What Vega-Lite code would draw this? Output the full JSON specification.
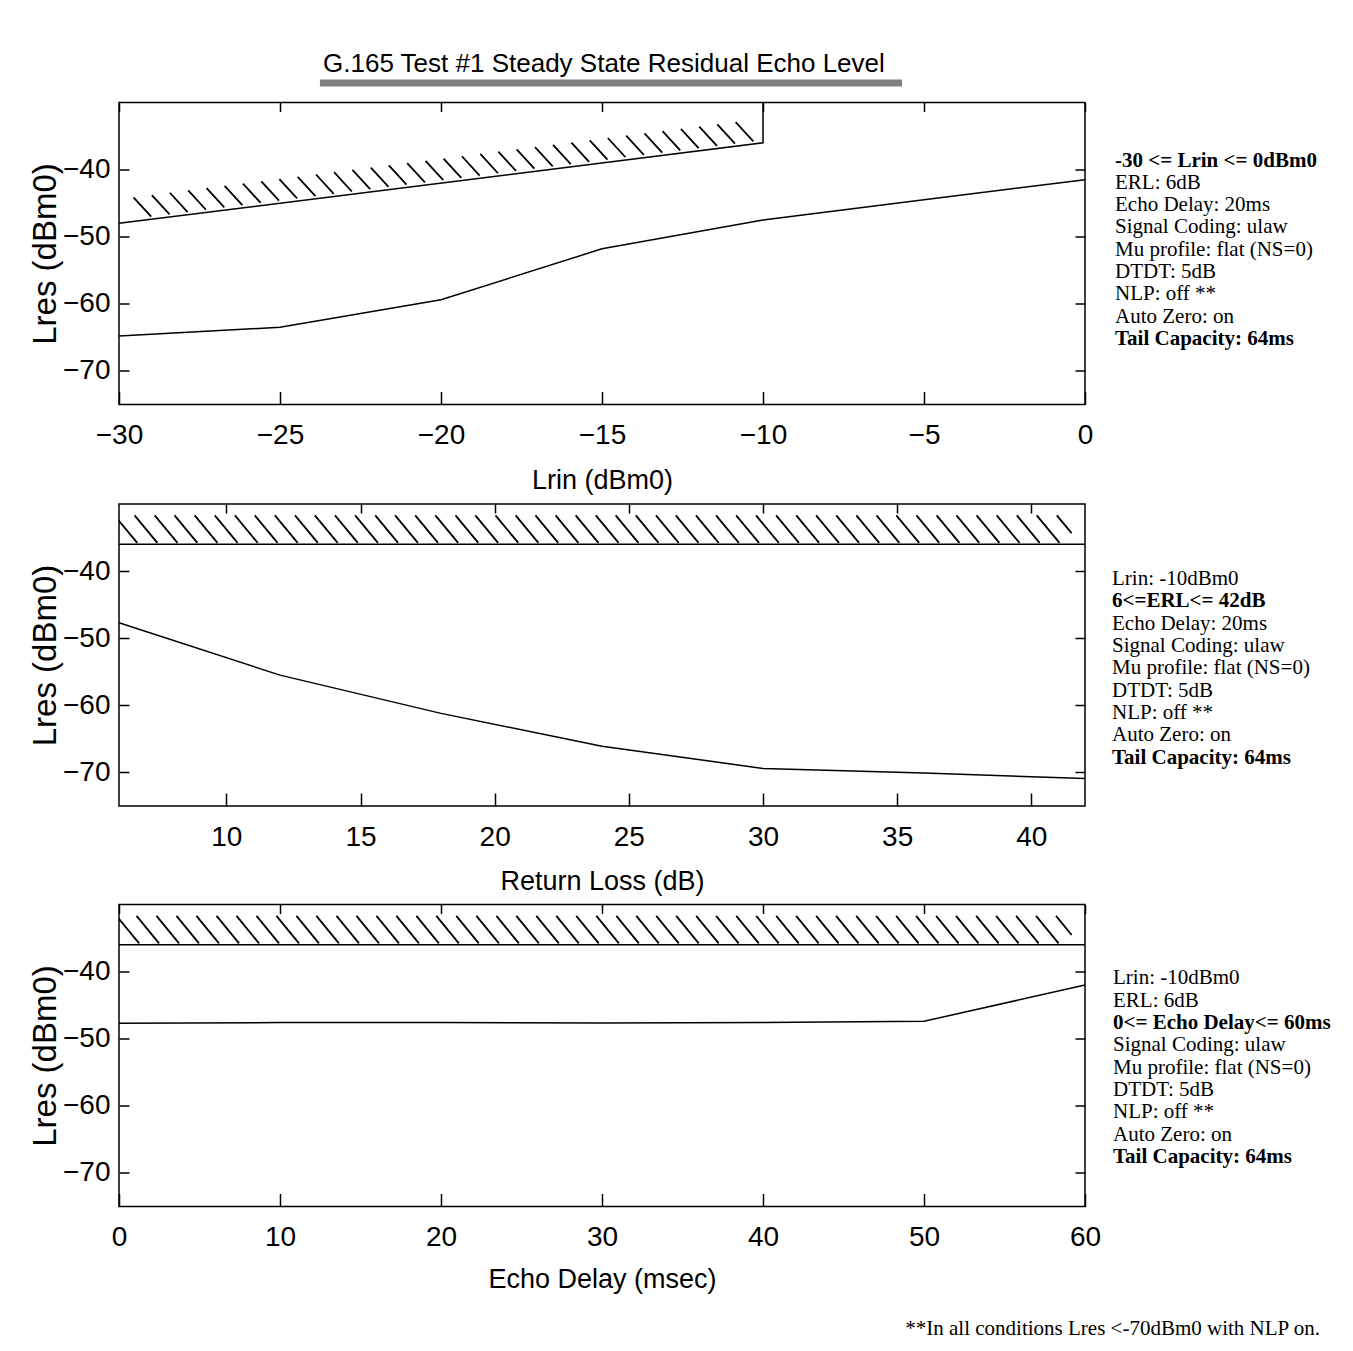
{
  "$schema": "https://vega.github.io/schema/vega-lite/v6.json",
  "background": "white",
  "padding": {"left": 28, "top": 38, "right": 0, "bottom": 0},
  "spacing": 7.5,
  "title": {"text": "**In all conditions Lres <-70dBm0 with NLP on.", "orient": "bottom", "anchor": "end", "font": "Liberation Serif", "fontSize": 21, "fontWeight": "normal", "color": "black", "offset": 25, "dx": -25, "baseline": "top"},
  "vconcat": [
    {
      "width": 966, "height": 52.5,
      "data": {"values": [{"t": "G.165 Test #1 Steady State Residual Echo Level"}]},
      "layer": [
        {"mark": {"type": "text", "font": "Liberation Sans", "fontSize": 26, "baseline": "alphabetic", "align": "center", "color": "black"},
         "encoding": {
           "text": {"field": "t"},
           "x": {"datum": 0.502, "type": "quantitative", "scale": {"domain": [0, 1], "nice": false, "zero": false}, "axis": null},
           "y": {"datum": 0.352, "type": "quantitative", "scale": {"domain": [0, 1], "nice": false, "zero": false}, "axis": null}}},
        {"mark": {"type": "rule", "color": "#808080", "strokeWidth": 7},
         "encoding": {
           "x": {"datum": 0.208, "type": "quantitative"},
           "x2": {"datum": 0.8106},
           "y": {"datum": 0.143, "type": "quantitative"}}}
      ]
    },
    {
      "spacing": 30, "bounds": "flush",
      "hconcat": [
        {
          "width": 966, "height": 302,
          "view": {"stroke": "black", "strokeWidth": 1.5},
          "resolve": {"axis": {"x": "independent", "y": "independent"}},
          "layer": [
            {"data": {"name": "p1hatch"}, "mark": {"type": "rule", "clip": true, "color": "black", "strokeWidth": 1.8},
             "encoding": {
               "x": {"field": "x", "type": "quantitative", "scale": {"domain": [-30, 0], "nice": false, "zero": false}, "axis": null},
               "x2": {"field": "x2"},
               "y": {"field": "y", "type": "quantitative", "scale": {"domain": [-75, -30], "nice": false, "zero": false}, "axis": null},
               "y2": {"field": "y2"}}},
            {"data": {"name": "p1limit"}, "mark": {"type": "line", "color": "black", "strokeWidth": 1.5},
             "encoding": {
               "x": {"field": "x", "type": "quantitative", "axis": {"orient": "top", "values": [-30, -25, -20, -15, -10, -5, 0], "labels": false, "title": null, "tickSize": -9}},
               "y": {"field": "y", "type": "quantitative", "axis": {"orient": "right", "values": [-70, -60, -50, -40], "labels": false, "title": null, "tickSize": -10}},
               "order": {"field": "k"}}},
            {"data": {"name": "p1line"}, "mark": {"type": "line", "color": "black", "strokeWidth": 1.5},
             "encoding": {
               "x": {"field": "x", "type": "quantitative", "axis": {"orient": "bottom", "values": [-30, -25, -20, -15, -10, -5, 0], "title": "Lrin (dBm0)", "tickSize": -13, "labelPadding": 30, "titlePadding": 18}},
               "y": {"field": "y", "type": "quantitative", "axis": {"orient": "left", "values": [-70, -60, -50, -40], "title": "Lres (dBm0)", "tickSize": -10, "labelPadding": 19, "titlePadding": 0, "titleFontSize": 33}}}}
          ]
        },
        {
          "width": 230, "height": 302,
          "data": {"name": "t1"},
          "encoding": {
            "x": {"datum": 0, "type": "quantitative", "scale": {"domain": [0, 1]}, "axis": null},
            "y": {"field": "n", "type": "quantitative", "scale": {"domain": [-1.87, 11.67], "reverse": true, "nice": false, "zero": false}, "axis": null},
            "text": {"field": "s"}},
          "layer": [
            {"transform": [{"filter": "datum.b == 1"}], "mark": {"type": "text", "align": "left", "baseline": "alphabetic", "font": "Liberation Serif", "fontSize": 21, "fontWeight": "bold", "color": "black"}},
            {"transform": [{"filter": "datum.b == 0"}], "mark": {"type": "text", "align": "left", "baseline": "alphabetic", "font": "Liberation Serif", "fontSize": 21, "fontWeight": "normal", "color": "black"}}
          ]
        }
      ]
    },
    {
      "spacing": 27, "bounds": "flush",
      "hconcat": [
        {
          "width": 966, "height": 302,
          "view": {"stroke": "black", "strokeWidth": 1.5},
          "resolve": {"axis": {"x": "independent", "y": "independent"}},
          "layer": [
            {"data": {"name": "p2hatch"}, "mark": {"type": "rule", "clip": true, "color": "black", "strokeWidth": 1.8},
             "encoding": {
               "x": {"field": "x", "type": "quantitative", "scale": {"domain": [6, 42], "nice": false, "zero": false}, "axis": null},
               "x2": {"field": "x2"},
               "y": {"field": "y", "type": "quantitative", "scale": {"domain": [-75, -30], "nice": false, "zero": false}, "axis": null},
               "y2": {"field": "y2"}}},
            {"data": {"name": "p2limit"}, "mark": {"type": "line", "color": "black", "strokeWidth": 1.5},
             "encoding": {
               "x": {"field": "x", "type": "quantitative", "axis": {"orient": "top", "values": [10, 15, 20, 25, 30, 35, 40], "labels": false, "title": null, "tickSize": -9}},
               "y": {"field": "y", "type": "quantitative", "axis": {"orient": "right", "values": [-70, -60, -50, -40], "labels": false, "title": null, "tickSize": -10}}}},
            {"data": {"name": "p2line"}, "mark": {"type": "line", "color": "black", "strokeWidth": 1.5},
             "encoding": {
               "x": {"field": "x", "type": "quantitative", "axis": {"orient": "bottom", "values": [10, 15, 20, 25, 30, 35, 40], "title": "Return Loss (dB)", "tickSize": -13, "labelPadding": 30, "titlePadding": 17}},
               "y": {"field": "y", "type": "quantitative", "axis": {"orient": "left", "values": [-70, -60, -50, -40], "title": "Lres (dBm0)", "tickSize": -10, "labelPadding": 19, "titlePadding": 0, "titleFontSize": 33}}}}
          ]
        },
        {
          "width": 230, "height": 302,
          "data": {"name": "t2"},
          "encoding": {
            "x": {"datum": 0, "type": "quantitative", "scale": {"domain": [0, 1]}, "axis": null},
            "y": {"field": "n", "type": "quantitative", "scale": {"domain": [-2.635, 10.905], "reverse": true, "nice": false, "zero": false}, "axis": null},
            "text": {"field": "s"}},
          "layer": [
            {"transform": [{"filter": "datum.b == 1"}], "mark": {"type": "text", "align": "left", "baseline": "alphabetic", "font": "Liberation Serif", "fontSize": 21, "fontWeight": "bold", "color": "black"}},
            {"transform": [{"filter": "datum.b == 0"}], "mark": {"type": "text", "align": "left", "baseline": "alphabetic", "font": "Liberation Serif", "fontSize": 21, "fontWeight": "normal", "color": "black"}}
          ]
        }
      ]
    },
    {
      "spacing": 28, "bounds": "flush",
      "hconcat": [
        {
          "width": 966, "height": 302,
          "view": {"stroke": "black", "strokeWidth": 1.5},
          "resolve": {"axis": {"x": "independent", "y": "independent"}},
          "layer": [
            {"data": {"name": "p3hatch"}, "mark": {"type": "rule", "clip": true, "color": "black", "strokeWidth": 1.8},
             "encoding": {
               "x": {"field": "x", "type": "quantitative", "scale": {"domain": [0, 60], "nice": false, "zero": false}, "axis": null},
               "x2": {"field": "x2"},
               "y": {"field": "y", "type": "quantitative", "scale": {"domain": [-75, -30], "nice": false, "zero": false}, "axis": null},
               "y2": {"field": "y2"}}},
            {"data": {"name": "p3limit"}, "mark": {"type": "line", "color": "black", "strokeWidth": 1.5},
             "encoding": {
               "x": {"field": "x", "type": "quantitative", "axis": {"orient": "top", "values": [0, 10, 20, 30, 40, 50, 60], "labels": false, "title": null, "tickSize": -9}},
               "y": {"field": "y", "type": "quantitative", "axis": {"orient": "right", "values": [-70, -60, -50, -40], "labels": false, "title": null, "tickSize": -10}}}},
            {"data": {"name": "p3line"}, "mark": {"type": "line", "color": "black", "strokeWidth": 1.5},
             "encoding": {
               "x": {"field": "x", "type": "quantitative", "axis": {"orient": "bottom", "values": [0, 10, 20, 30, 40, 50, 60], "title": "Echo Delay (msec)", "tickSize": -13, "labelPadding": 30, "titlePadding": 15}},
               "y": {"field": "y", "type": "quantitative", "axis": {"orient": "left", "values": [-70, -60, -50, -40], "title": "Lres (dBm0)", "tickSize": -10, "labelPadding": 19, "titlePadding": 0, "titleFontSize": 33}}}}
          ]
        },
        {
          "width": 230, "height": 302,
          "data": {"name": "t3"},
          "encoding": {
            "x": {"datum": 0, "type": "quantitative", "scale": {"domain": [0, 1]}, "axis": null},
            "y": {"field": "n", "type": "quantitative", "scale": {"domain": [-2.585, 10.955], "reverse": true, "nice": false, "zero": false}, "axis": null},
            "text": {"field": "s"}},
          "layer": [
            {"transform": [{"filter": "datum.b == 1"}], "mark": {"type": "text", "align": "left", "baseline": "alphabetic", "font": "Liberation Serif", "fontSize": 21, "fontWeight": "bold", "color": "black"}},
            {"transform": [{"filter": "datum.b == 0"}], "mark": {"type": "text", "align": "left", "baseline": "alphabetic", "font": "Liberation Serif", "fontSize": 21, "fontWeight": "normal", "color": "black"}}
          ]
        }
      ]
    }
  ],
  "datasets": {
    "p1line": [{"x": -30, "y": -64.8}, {"x": -25, "y": -63.5}, {"x": -20, "y": -59.4}, {"x": -15, "y": -51.8}, {"x": -10, "y": -47.5}, {"x": -5, "y": -44.5}, {"x": 0, "y": -41.5}],
    "p1limit": [{"k": 1, "x": -30, "y": -48}, {"k": 2, "x": -10, "y": -36}, {"k": 3, "x": -10, "y": -30}],
    "p1hatch": [
      {"x": -29.55, "y": -44.13, "x2": -29.0, "y2": -47.0},
      {"x": -28.98, "y": -43.79, "x2": -28.43, "y2": -46.66},
      {"x": -28.42, "y": -43.45, "x2": -27.87, "y2": -46.32},
      {"x": -27.85, "y": -43.11, "x2": -27.3, "y2": -45.98},
      {"x": -27.28, "y": -42.77, "x2": -26.73, "y2": -45.64},
      {"x": -26.72, "y": -42.43, "x2": -26.17, "y2": -45.3},
      {"x": -26.15, "y": -42.09, "x2": -25.6, "y2": -44.96},
      {"x": -25.58, "y": -41.75, "x2": -25.03, "y2": -44.62},
      {"x": -25.02, "y": -41.41, "x2": -24.47, "y2": -44.28},
      {"x": -24.45, "y": -41.07, "x2": -23.9, "y2": -43.94},
      {"x": -23.88, "y": -40.73, "x2": -23.33, "y2": -43.6},
      {"x": -23.32, "y": -40.39, "x2": -22.77, "y2": -43.26},
      {"x": -22.75, "y": -40.05, "x2": -22.2, "y2": -42.92},
      {"x": -22.18, "y": -39.71, "x2": -21.63, "y2": -42.58},
      {"x": -21.62, "y": -39.37, "x2": -21.07, "y2": -42.24},
      {"x": -21.05, "y": -39.03, "x2": -20.5, "y2": -41.9},
      {"x": -20.48, "y": -38.69, "x2": -19.93, "y2": -41.56},
      {"x": -19.92, "y": -38.35, "x2": -19.37, "y2": -41.22},
      {"x": -19.35, "y": -38.01, "x2": -18.8, "y2": -40.88},
      {"x": -18.78, "y": -37.67, "x2": -18.23, "y2": -40.54},
      {"x": -18.22, "y": -37.33, "x2": -17.67, "y2": -40.2},
      {"x": -17.65, "y": -36.99, "x2": -17.1, "y2": -39.86},
      {"x": -17.08, "y": -36.65, "x2": -16.53, "y2": -39.52},
      {"x": -16.52, "y": -36.31, "x2": -15.97, "y2": -39.18},
      {"x": -15.95, "y": -35.97, "x2": -15.4, "y2": -38.84},
      {"x": -15.38, "y": -35.63, "x2": -14.83, "y2": -38.5},
      {"x": -14.82, "y": -35.29, "x2": -14.27, "y2": -38.16},
      {"x": -14.25, "y": -34.95, "x2": -13.7, "y2": -37.82},
      {"x": -13.68, "y": -34.61, "x2": -13.13, "y2": -37.48},
      {"x": -13.12, "y": -34.27, "x2": -12.57, "y2": -37.14},
      {"x": -12.55, "y": -33.93, "x2": -12.0, "y2": -36.8},
      {"x": -11.98, "y": -33.59, "x2": -11.43, "y2": -36.46},
      {"x": -11.42, "y": -33.25, "x2": -10.87, "y2": -36.12},
      {"x": -10.85, "y": -32.91, "x2": -10.3, "y2": -35.78}
    ],
    "p2line": [{"x": 6, "y": -47.7}, {"x": 12, "y": -55.5}, {"x": 18, "y": -61.2}, {"x": 24, "y": -66.1}, {"x": 30, "y": -69.4}, {"x": 36, "y": -70.1}, {"x": 42, "y": -70.9}],
    "p2limit": [{"x": 6, "y": -36}, {"x": 42, "y": -36}],
    "p2hatch": [
      {"x": 5.83, "x2": 6.68, "y": -31.7, "y2": -35.8},
      {"x": 6.58, "x2": 7.43, "y": -31.7, "y2": -35.8},
      {"x": 7.33, "x2": 8.18, "y": -31.7, "y2": -35.8},
      {"x": 8.07, "x2": 8.92, "y": -31.7, "y2": -35.8},
      {"x": 8.82, "x2": 9.67, "y": -31.7, "y2": -35.8},
      {"x": 9.57, "x2": 10.42, "y": -31.7, "y2": -35.8},
      {"x": 10.32, "x2": 11.17, "y": -31.7, "y2": -35.8},
      {"x": 11.06, "x2": 11.91, "y": -31.7, "y2": -35.8},
      {"x": 11.81, "x2": 12.66, "y": -31.7, "y2": -35.8},
      {"x": 12.56, "x2": 13.41, "y": -31.7, "y2": -35.8},
      {"x": 13.3, "x2": 14.15, "y": -31.7, "y2": -35.8},
      {"x": 14.05, "x2": 14.9, "y": -31.7, "y2": -35.8},
      {"x": 14.8, "x2": 15.65, "y": -31.7, "y2": -35.8},
      {"x": 15.55, "x2": 16.4, "y": -31.7, "y2": -35.8},
      {"x": 16.29, "x2": 17.14, "y": -31.7, "y2": -35.8},
      {"x": 17.04, "x2": 17.89, "y": -31.7, "y2": -35.8},
      {"x": 17.79, "x2": 18.64, "y": -31.7, "y2": -35.8},
      {"x": 18.54, "x2": 19.39, "y": -31.7, "y2": -35.8},
      {"x": 19.28, "x2": 20.13, "y": -31.7, "y2": -35.8},
      {"x": 20.03, "x2": 20.88, "y": -31.7, "y2": -35.8},
      {"x": 20.78, "x2": 21.63, "y": -31.7, "y2": -35.8},
      {"x": 21.52, "x2": 22.37, "y": -31.7, "y2": -35.8},
      {"x": 22.27, "x2": 23.12, "y": -31.7, "y2": -35.8},
      {"x": 23.02, "x2": 23.87, "y": -31.7, "y2": -35.8},
      {"x": 23.77, "x2": 24.62, "y": -31.7, "y2": -35.8},
      {"x": 24.51, "x2": 25.36, "y": -31.7, "y2": -35.8},
      {"x": 25.26, "x2": 26.11, "y": -31.7, "y2": -35.8},
      {"x": 26.01, "x2": 26.86, "y": -31.7, "y2": -35.8},
      {"x": 26.75, "x2": 27.6, "y": -31.7, "y2": -35.8},
      {"x": 27.5, "x2": 28.35, "y": -31.7, "y2": -35.8},
      {"x": 28.25, "x2": 29.1, "y": -31.7, "y2": -35.8},
      {"x": 29.0, "x2": 29.85, "y": -31.7, "y2": -35.8},
      {"x": 29.74, "x2": 30.59, "y": -31.7, "y2": -35.8},
      {"x": 30.49, "x2": 31.34, "y": -31.7, "y2": -35.8},
      {"x": 31.24, "x2": 32.09, "y": -31.7, "y2": -35.8},
      {"x": 31.98, "x2": 32.83, "y": -31.7, "y2": -35.8},
      {"x": 32.73, "x2": 33.58, "y": -31.7, "y2": -35.8},
      {"x": 33.48, "x2": 34.33, "y": -31.7, "y2": -35.8},
      {"x": 34.23, "x2": 35.08, "y": -31.7, "y2": -35.8},
      {"x": 34.97, "x2": 35.82, "y": -31.7, "y2": -35.8},
      {"x": 35.72, "x2": 36.57, "y": -31.7, "y2": -35.8},
      {"x": 36.47, "x2": 37.32, "y": -31.7, "y2": -35.8},
      {"x": 37.21, "x2": 38.06, "y": -31.7, "y2": -35.8},
      {"x": 37.96, "x2": 38.81, "y": -31.7, "y2": -35.8},
      {"x": 38.71, "x2": 39.56, "y": -31.7, "y2": -35.8},
      {"x": 39.46, "x2": 40.31, "y": -31.7, "y2": -35.8},
      {"x": 40.2, "x2": 41.05, "y": -31.7, "y2": -35.8},
      {"x": 40.95, "x2": 41.5, "y": -31.7, "y2": -34.35}
    ],
    "p3line": [{"x": 0, "y": -47.7}, {"x": 10, "y": -47.6}, {"x": 20, "y": -47.6}, {"x": 30, "y": -47.65}, {"x": 40, "y": -47.6}, {"x": 50, "y": -47.4}, {"x": 60, "y": -42.0}],
    "p3limit": [{"x": 0, "y": -36}, {"x": 60, "y": -36}],
    "p3hatch": [
      {"x": -0.15, "x2": 1.25, "y": -31.7, "y2": -35.8},
      {"x": 1.09, "x2": 2.49, "y": -31.7, "y2": -35.8},
      {"x": 2.33, "x2": 3.73, "y": -31.7, "y2": -35.8},
      {"x": 3.57, "x2": 4.97, "y": -31.7, "y2": -35.8},
      {"x": 4.81, "x2": 6.21, "y": -31.7, "y2": -35.8},
      {"x": 6.06, "x2": 7.46, "y": -31.7, "y2": -35.8},
      {"x": 7.3, "x2": 8.7, "y": -31.7, "y2": -35.8},
      {"x": 8.54, "x2": 9.94, "y": -31.7, "y2": -35.8},
      {"x": 9.78, "x2": 11.18, "y": -31.7, "y2": -35.8},
      {"x": 11.02, "x2": 12.42, "y": -31.7, "y2": -35.8},
      {"x": 12.26, "x2": 13.66, "y": -31.7, "y2": -35.8},
      {"x": 13.51, "x2": 14.91, "y": -31.7, "y2": -35.8},
      {"x": 14.75, "x2": 16.15, "y": -31.7, "y2": -35.8},
      {"x": 15.99, "x2": 17.39, "y": -31.7, "y2": -35.8},
      {"x": 17.23, "x2": 18.63, "y": -31.7, "y2": -35.8},
      {"x": 18.47, "x2": 19.87, "y": -31.7, "y2": -35.8},
      {"x": 19.71, "x2": 21.11, "y": -31.7, "y2": -35.8},
      {"x": 20.95, "x2": 22.35, "y": -31.7, "y2": -35.8},
      {"x": 22.2, "x2": 23.6, "y": -31.7, "y2": -35.8},
      {"x": 23.44, "x2": 24.84, "y": -31.7, "y2": -35.8},
      {"x": 24.68, "x2": 26.08, "y": -31.7, "y2": -35.8},
      {"x": 25.92, "x2": 27.32, "y": -31.7, "y2": -35.8},
      {"x": 27.16, "x2": 28.56, "y": -31.7, "y2": -35.8},
      {"x": 28.4, "x2": 29.8, "y": -31.7, "y2": -35.8},
      {"x": 29.65, "x2": 31.05, "y": -31.7, "y2": -35.8},
      {"x": 30.89, "x2": 32.29, "y": -31.7, "y2": -35.8},
      {"x": 32.13, "x2": 33.53, "y": -31.7, "y2": -35.8},
      {"x": 33.37, "x2": 34.77, "y": -31.7, "y2": -35.8},
      {"x": 34.61, "x2": 36.01, "y": -31.7, "y2": -35.8},
      {"x": 35.85, "x2": 37.25, "y": -31.7, "y2": -35.8},
      {"x": 37.09, "x2": 38.49, "y": -31.7, "y2": -35.8},
      {"x": 38.34, "x2": 39.74, "y": -31.7, "y2": -35.8},
      {"x": 39.58, "x2": 40.98, "y": -31.7, "y2": -35.8},
      {"x": 40.82, "x2": 42.22, "y": -31.7, "y2": -35.8},
      {"x": 42.06, "x2": 43.46, "y": -31.7, "y2": -35.8},
      {"x": 43.3, "x2": 44.7, "y": -31.7, "y2": -35.8},
      {"x": 44.54, "x2": 45.94, "y": -31.7, "y2": -35.8},
      {"x": 45.79, "x2": 47.19, "y": -31.7, "y2": -35.8},
      {"x": 47.03, "x2": 48.43, "y": -31.7, "y2": -35.8},
      {"x": 48.27, "x2": 49.67, "y": -31.7, "y2": -35.8},
      {"x": 49.51, "x2": 50.91, "y": -31.7, "y2": -35.8},
      {"x": 50.75, "x2": 52.15, "y": -31.7, "y2": -35.8},
      {"x": 51.99, "x2": 53.39, "y": -31.7, "y2": -35.8},
      {"x": 53.24, "x2": 54.64, "y": -31.7, "y2": -35.8},
      {"x": 54.48, "x2": 55.88, "y": -31.7, "y2": -35.8},
      {"x": 55.72, "x2": 57.12, "y": -31.7, "y2": -35.8},
      {"x": 56.96, "x2": 58.36, "y": -31.7, "y2": -35.8},
      {"x": 58.2, "x2": 59.17, "y": -31.7, "y2": -34.54}
    ],
    "t1": [
      {"n": 1, "s": "-30 <= Lrin <= 0dBm0", "b": 1},
      {"n": 2, "s": "ERL: 6dB", "b": 0},
      {"n": 3, "s": "Echo Delay: 20ms", "b": 0},
      {"n": 4, "s": "Signal Coding: ulaw", "b": 0},
      {"n": 5, "s": "Mu profile: flat (NS=0)", "b": 0},
      {"n": 6, "s": "DTDT: 5dB", "b": 0},
      {"n": 7, "s": "NLP: off **", "b": 0},
      {"n": 8, "s": "Auto Zero: on", "b": 0},
      {"n": 9, "s": "Tail Capacity: 64ms", "b": 1}
    ],
    "t2": [
      {"n": 1, "s": "Lrin: -10dBm0", "b": 0},
      {"n": 2, "s": "6<=ERL<= 42dB", "b": 1},
      {"n": 3, "s": "Echo Delay: 20ms", "b": 0},
      {"n": 4, "s": "Signal Coding: ulaw", "b": 0},
      {"n": 5, "s": "Mu profile: flat (NS=0)", "b": 0},
      {"n": 6, "s": "DTDT: 5dB", "b": 0},
      {"n": 7, "s": "NLP: off **", "b": 0},
      {"n": 8, "s": "Auto Zero: on", "b": 0},
      {"n": 9, "s": "Tail Capacity: 64ms", "b": 1}
    ],
    "t3": [
      {"n": 1, "s": "Lrin: -10dBm0", "b": 0},
      {"n": 2, "s": "ERL: 6dB", "b": 0},
      {"n": 3, "s": "0<= Echo Delay<= 60ms", "b": 1},
      {"n": 4, "s": "Signal Coding: ulaw", "b": 0},
      {"n": 5, "s": "Mu profile: flat (NS=0)", "b": 0},
      {"n": 6, "s": "DTDT: 5dB", "b": 0},
      {"n": 7, "s": "NLP: off **", "b": 0},
      {"n": 8, "s": "Auto Zero: on", "b": 0},
      {"n": 9, "s": "Tail Capacity: 64ms", "b": 1}
    ]
  },
  "config": {
    "view": {"stroke": null},
    "axis": {"grid": false, "domain": false, "tickColor": "black", "tickWidth": 1.5, "labelColor": "black", "titleColor": "black", "labelFont": "Liberation Sans", "labelFontSize": 28, "titleFont": "Liberation Sans", "titleFontSize": 27, "titleFontWeight": "normal", "labelFlush": false, "labelOverlap": false, "labelBound": false}
  }
}
